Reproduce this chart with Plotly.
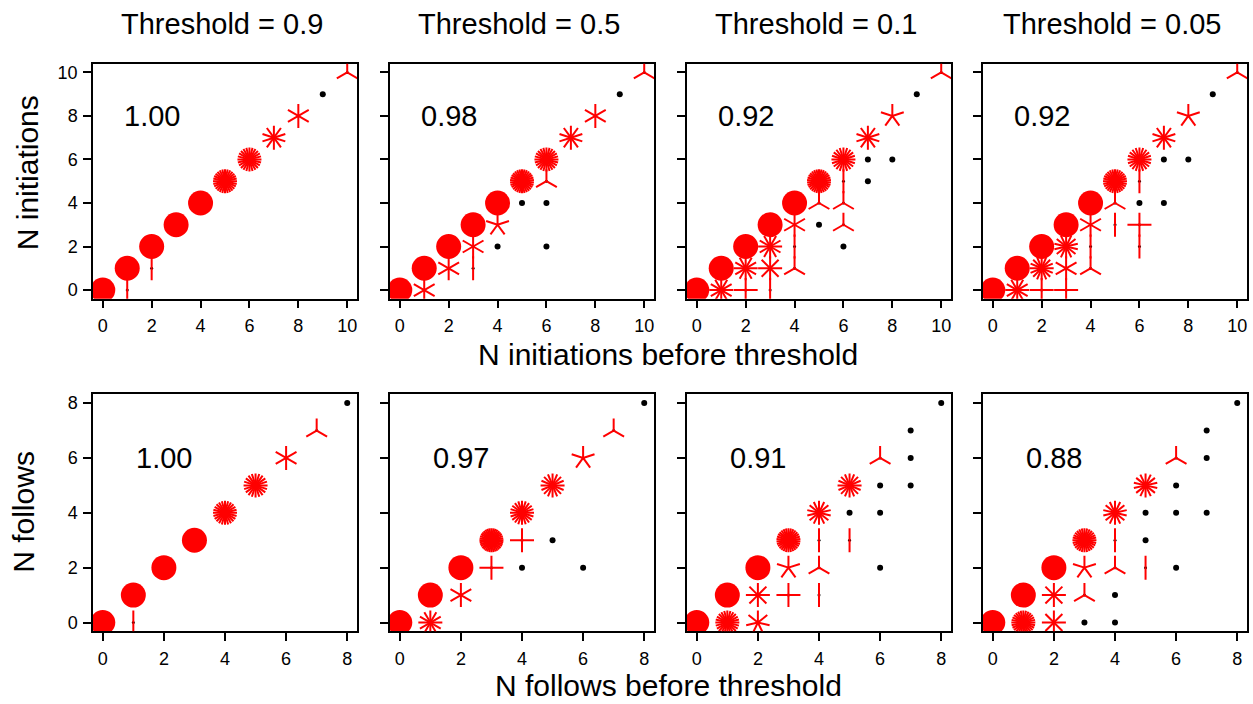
import math
import plotly.graph_objects as go

W, H = 1253, 704

# ---------------- data (x, y, count) per panel ----------------
# top row: N initiations (x = before threshold, y = after)
p1_x = [0, 1, 1, 2, 2, 3, 4, 5, 6, 7, 8, 9, 10]
p1_y = [0, 0, 1, 1, 2, 3, 4, 5, 6, 7, 8, 9, 10]
p1_n = [60, 2, 60, 2, 60, 60, 60, 28, 24, 10, 6, 1, 3]

p2_x = [0, 1, 1, 2, 2, 3, 3, 3, 4, 4, 4, 5, 5, 6, 6, 6, 6, 7, 8, 9, 10]
p2_y = [0, 0, 1, 1, 2, 1, 2, 3, 2, 3, 4, 4, 5, 2, 4, 5, 6, 7, 8, 9, 10]
p2_n = [60, 6, 60, 6, 60, 2, 6, 60, 1, 5, 60, 1, 30, 1, 1, 3, 24, 10, 6, 1, 3]

p3_x = [0, 1, 1, 2, 2, 2, 3, 3, 3, 3, 4, 4, 4, 4, 5, 5, 5, 6, 6, 6, 6, 6, 7, 7, 7, 8, 8, 9, 10]
p3_y = [0, 0, 1, 0, 1, 2, 0, 1, 2, 3, 1, 2, 3, 4, 3, 4, 5, 2, 3, 4, 5, 6, 5, 6, 7, 6, 8, 9, 10]
p3_n = [60, 12, 60, 4, 12, 60, 2, 8, 12, 60, 3, 2, 6, 60, 1, 3, 30, 1, 3, 3, 2, 20, 1, 1, 10, 1, 5, 1, 3]

p4_x = [0, 1, 1, 2, 2, 2, 3, 3, 3, 3, 4, 4, 4, 4, 5, 5, 5, 6, 6, 6, 6, 6, 7, 7, 7, 8, 8, 9, 10]
p4_y = [0, 0, 1, 0, 1, 2, 0, 1, 2, 3, 1, 2, 3, 4, 3, 4, 5, 2, 3, 4, 5, 6, 4, 6, 7, 6, 8, 9, 10]
p4_n = [60, 12, 60, 4, 16, 60, 4, 6, 14, 60, 3, 2, 6, 60, 2, 3, 28, 2, 4, 1, 2, 20, 1, 1, 10, 1, 5, 1, 3]

# bottom row: N follows
p5_x = [0, 1, 1, 2, 3, 4, 5, 6, 7, 8]
p5_y = [0, 0, 1, 2, 3, 4, 5, 6, 7, 8]
p5_n = [60, 2, 60, 60, 60, 24, 20, 6, 3, 1]

p6_x = [0, 1, 1, 2, 2, 3, 3, 4, 4, 4, 5, 5, 6, 6, 7, 8]
p6_y = [0, 0, 1, 1, 2, 2, 3, 2, 3, 4, 3, 5, 2, 6, 7, 8]
p6_n = [60, 12, 60, 6, 60, 4, 36, 1, 4, 20, 1, 16, 1, 5, 3, 1]

p7_x = [0, 1, 1, 2, 2, 2, 3, 3, 3, 4, 4, 4, 4, 5, 5, 5, 6, 6, 6, 6, 7, 7, 7, 8]
p7_y = [0, 0, 1, 0, 1, 2, 1, 2, 3, 1, 2, 3, 4, 3, 4, 5, 2, 4, 5, 6, 5, 6, 7, 8]
p7_n = [60, 24, 60, 7, 8, 60, 4, 5, 30, 2, 3, 2, 14, 2, 1, 16, 1, 1, 1, 3, 1, 1, 1, 1]

p8_x = [0, 1, 1, 2, 2, 2, 3, 3, 3, 3, 4, 4, 4, 4, 4, 5, 5, 5, 5, 6, 6, 6, 6, 7, 7, 7, 8]
p8_y = [0, 0, 1, 0, 1, 2, 0, 1, 2, 3, 0, 1, 2, 3, 4, 2, 3, 4, 5, 2, 4, 5, 6, 4, 6, 7, 8]
p8_n = [60, 28, 60, 8, 8, 60, 1, 3, 5, 28, 1, 1, 3, 2, 14, 2, 1, 1, 14, 1, 1, 1, 3, 1, 1, 1, 1]

thresholds = ["0.9", "0.5", "0.1", "0.05"]
top_stats = ["1.00", "0.98", "0.92", "0.92"]
bottom_stats = ["1.00", "0.97", "0.91", "0.88"]
top_ticks = [0, 2, 4, 6, 8, 10]
bottom_ticks = [0, 2, 4, 6, 8]

panels = [
    (p1_x, p1_y, p1_n), (p2_x, p2_y, p2_n), (p3_x, p3_y, p3_n), (p4_x, p4_y, p4_n),
    (p5_x, p5_y, p5_n), (p6_x, p6_y, p6_n), (p7_x, p7_y, p7_n), (p8_x, p8_y, p8_n),
]

# ---------------- layout geometry (window pixels) ----------------
col_left = [93, 390, 687, 983]
col_w = 264
row_top = [(63, 299), (395, 633)]
PETAL = 12        # petal length in px
SOLID_N = 40      # counts at/above this are drawn as a filled disc
FONT = "Liberation Sans, Arial, Helvetica, sans-serif"


def px(xw):
    return xw / W


def py(yw):
    return 1 - yw / H


fig = go.Figure()
shapes = []
annotations = []
layout_axes = {}

for i, (xs, ys, ns) in enumerate(panels):
    row, col = divmod(i, 4)
    k = i + 1
    xa = "x" if k == 1 else f"x{k}"
    ya = "y" if k == 1 else f"y{k}"
    xname = "xaxis" if k == 1 else f"xaxis{k}"
    yname = "yaxis" if k == 1 else f"yaxis{k}"
    vmax = 10 if row == 0 else 8
    pad = 0.04 * vmax
    ticks = top_ticks if row == 0 else bottom_ticks
    x0p = col_left[col]
    t, b = row_top[row]
    common = dict(
        showline=True, mirror=True, linecolor="black", linewidth=1.5,
        ticks="outside", ticklen=8, tickwidth=1.5, tickcolor="black",
        showgrid=False, zeroline=False, range=[-pad, vmax + pad],
        tickvals=ticks, tickfont=dict(family=FONT, size=18, color="black"),
        fixedrange=True,
    )
    layout_axes[xname] = dict(common, domain=[px(x0p), px(x0p + col_w)], anchor=ya,
                              ticklabelstandoff=2)
    layout_axes[yname] = dict(common, domain=[py(b), py(t)], anchor=xa,
                              showticklabels=(col == 0), ticklabelstandoff=2)

    single = [j for j in range(len(ns)) if ns[j] == 1]
    multi = [j for j in range(len(ns)) if ns[j] > 1]
    fig.add_trace(go.Scatter(
        x=[xs[j] for j in multi], y=[ys[j] for j in multi], mode="markers",
        marker=dict(color="black", size=3), xaxis=xa, yaxis=ya,
        showlegend=False, hoverinfo="skip"))
    solid = [j for j in range(len(ns)) if ns[j] >= SOLID_N]
    fig.add_trace(go.Scatter(
        x=[xs[j] for j in solid], y=[ys[j] for j in solid], mode="markers",
        marker=dict(color="red", size=2 * PETAL + 1, line=dict(width=0)),
        xaxis=xa, yaxis=ya, showlegend=False, hoverinfo="skip"))
    fig.add_trace(go.Scatter(
        x=[xs[j] for j in single], y=[ys[j] for j in single], mode="markers",
        marker=dict(color="black", size=6), xaxis=xa, yaxis=ya,
        showlegend=False, hoverinfo="skip"))
    for j in multi:
        n = ns[j]
        if n >= SOLID_N:
            continue
        for p in range(n):
            ang = math.pi / 2 + 2 * math.pi * p / n
            shapes.append(dict(
                type="line", xref=xa, yref=ya, xsizemode="pixel", ysizemode="pixel",
                xanchor=xs[j], yanchor=ys[j], x0=0, y0=0,
                x1=PETAL * math.cos(ang), y1=PETAL * math.sin(ang),
                line=dict(color="red", width=2), layer="above"))

    annotations.append(dict(
        xref=xa, yref=ya, x=2, y=(8 if row == 0 else 6),
        text=(top_stats if row == 0 else bottom_stats)[col], showarrow=False,
        font=dict(family=FONT, size=29, color="black"), xanchor="center", yanchor="middle"))

for c, th in enumerate(thresholds):
    annotations.append(dict(
        xref="paper", yref="paper", x=px(col_left[c] + col_w / 2 - 3), y=py(23),
        text=f"Threshold = {th}", showarrow=False,
        font=dict(family=FONT, size=29, color="black"), xanchor="center", yanchor="middle"))

annotations += [
    dict(xref="paper", yref="paper", x=px(668), y=py(355),
         text="N initiations before threshold", showarrow=False,
         font=dict(family=FONT, size=30, color="black"), xanchor="center", yanchor="middle"),
    dict(xref="paper", yref="paper", x=px(668), y=py(687),
         text="N follows before threshold", showarrow=False,
         font=dict(family=FONT, size=30, color="black"), xanchor="center", yanchor="middle"),
    dict(xref="paper", yref="paper", x=px(27), y=py(173),
         text="N initiations", textangle=-90, showarrow=False,
         font=dict(family=FONT, size=30, color="black"), xanchor="center", yanchor="middle"),
    dict(xref="paper", yref="paper", x=px(24), y=py(513),
         text="N follows", textangle=-90, showarrow=False,
         font=dict(family=FONT, size=30, color="black"), xanchor="center", yanchor="middle"),
]

fig.update_layout(
    width=W, height=H, margin=dict(l=0, r=0, t=0, b=0),
    paper_bgcolor="white", plot_bgcolor="white",
    shapes=shapes, annotations=annotations, showlegend=False,
    font=dict(family=FONT, color="black"),
    **layout_axes,
)

# remove the default 8px page margin so the figure fills the window exactly
fig.write_html("out.html", config={"displayModeBar": False},
               post_script="document.body.style.margin='0px';document.body.style.overflow='hidden';")
